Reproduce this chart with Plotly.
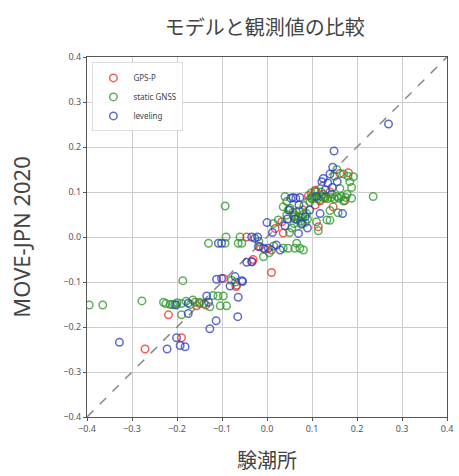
import plotly.graph_objects as go

AXIS_RANGE = [-0.4, 0.4]
TICKS = [-0.4, -0.3, -0.2, -0.1, 0.0, 0.1, 0.2, 0.3, 0.4]

SERIES_NAMES = ["GPS-P", "static GNSS", "leveling"]

gps_x = [-0.271, -0.219, -0.190, -0.156, -0.136, -0.097, -0.069, -0.067, -0.045, -0.031,
         -0.033, -0.016, -0.004, 0.010, 0.010, 0.018, 0.036, 0.033, 0.099, 0.107,
         0.107, 0.114, 0.129, 0.147, 0.173, 0.162, 0.181, 0.107, 0.080, 0.125, 0.140,
         0.092, 0.118, 0.060, -0.150]
gps_y = [-0.249, -0.173, -0.224, -0.153, -0.151, -0.092, -0.110, -0.107, 0.000, -0.050,
         -0.055, -0.021, -0.027, -0.079, -0.029, 0.019, 0.009, 0.034, 0.086, 0.101,
         0.071, 0.023, 0.086, 0.067, 0.081, 0.141, 0.143, 0.104, 0.060, 0.095, 0.100,
         0.092, 0.080, 0.045, -0.148]

gnss_x = [-0.395, -0.365, -0.278, -0.230, -0.225, -0.215, -0.210, -0.190, -0.180, -0.170,
          -0.165, -0.160, -0.150, -0.190, -0.187, -0.127, -0.104, -0.090, -0.120, -0.109,
          -0.097, -0.130, -0.093, -0.091, -0.064, -0.056, -0.060, -0.093, -0.079, -0.070,
          -0.008, 0.005, 0.015, 0.036, 0.047, 0.062, 0.073, 0.081, 0.066, 0.014,
          0.025, 0.040, 0.044, 0.051, 0.110, 0.114, 0.133, 0.140, 0.140, 0.158,
          0.188, 0.236, 0.192, 0.184, 0.188, 0.162, 0.060, 0.065, 0.070, 0.075,
          0.080, 0.090, 0.100, 0.120, 0.130, 0.150, 0.165, 0.170, 0.145, 0.120,
          0.155, 0.150, 0.170, 0.180, 0.050, 0.055,
          0.036, 0.047, 0.044, 0.058, 0.063, 0.068, 0.072, 0.078, 0.085, 0.088,
          0.095, 0.100, 0.105, 0.112, 0.118, 0.125, 0.135, 0.142, 0.155, 0.160,
          0.175, 0.178, 0.110, 0.098, 0.082, 0.076, -0.205, -0.200, -0.140, -0.018]
gnss_y = [-0.151, -0.151, -0.142, -0.145, -0.148, -0.150, -0.150, -0.148, -0.143, -0.150,
          -0.140, -0.145, -0.145, -0.173, -0.097, -0.155, -0.153, -0.153, -0.130, -0.131,
          -0.131, -0.014, -0.014, 0.000, -0.014, -0.014, 0.000, 0.069, -0.096, -0.100,
          -0.044, -0.035, -0.020, -0.025, -0.025, -0.025, -0.025, -0.029, -0.014, 0.030,
          0.038, 0.090, 0.079, 0.064, 0.034, 0.014, 0.038, 0.037, 0.059, 0.054,
          0.086, 0.090, 0.134, 0.123, 0.110, 0.108, 0.030, 0.040, 0.045, 0.035,
          0.050, 0.040, 0.085, 0.090, 0.090, 0.085, 0.090, 0.080, 0.095, 0.100,
          0.150, 0.135, 0.140, 0.135, 0.010, 0.020,
          0.067, 0.060, 0.049, 0.055, 0.048, 0.038, 0.058, 0.044, 0.032, 0.052,
          0.078, 0.090, 0.088, 0.085, 0.083, 0.088, 0.085, 0.088, 0.090, 0.086,
          0.088, 0.095, 0.100, 0.098, 0.070, 0.028, -0.150, -0.146, -0.148, -0.010]

lev_x = [0.270, 0.149, 0.146, 0.156, 0.125, 0.122, 0.140, 0.168, 0.118, 0.073,
         0.058, 0.070, 0.000, -0.027, -0.008, 0.003, 0.021, 0.029, -0.034, -0.021,
         -0.019, -0.034, -0.045, -0.108, -0.101, -0.112, -0.101, -0.071, -0.056, -0.082,
         -0.054, -0.064, -0.065, -0.113, -0.127, -0.134, -0.175, -0.175, -0.202, -0.201,
         -0.193, -0.182, -0.222, -0.328, 0.085, 0.090, 0.050, 0.040, 0.110, -0.130,
         0.130, 0.053, 0.064, 0.071, 0.062, 0.078, 0.095, 0.135, 0.145, 0.012, 0.045]
lev_y = [0.251, 0.191, 0.155, 0.123, 0.130, 0.123, 0.140, 0.052, 0.052, 0.088,
         0.088, 0.008, 0.032, -0.003, -0.025, -0.025, -0.018, -0.029, 0.000, 0.000,
         -0.021, -0.055, -0.056, -0.014, -0.014, -0.094, -0.092, -0.088, -0.097, -0.109,
         -0.099, -0.134, -0.177, -0.186, -0.204, -0.131, -0.147, -0.170, -0.151, -0.224,
         -0.241, -0.244, -0.249, -0.234, 0.045, 0.020, 0.060, 0.025, 0.090, -0.145,
         0.105, 0.086, 0.086, 0.071, 0.040, 0.030, 0.060, 0.120, 0.110, 0.010, 0.040]

COLORS = ["rgba(232,40,40,0.75)", "rgba(40,150,40,0.75)", "rgba(40,60,190,0.75)"]

fig = go.Figure()

fig.add_trace(go.Scatter(
    x=AXIS_RANGE, y=AXIS_RANGE, mode="lines",
    line=dict(color="#888888", width=1.5, dash="dash"),
    showlegend=False, hoverinfo="skip"))

for name, xs, ys, col in zip(SERIES_NAMES, [gps_x, gnss_x, lev_x], [gps_y, gnss_y, lev_y], COLORS):
    fig.add_trace(go.Scatter(
        x=xs, y=ys, mode="markers", name=name,
        marker=dict(symbol="circle-open", size=7.5, color=col, line=dict(width=1.5, color=col))))

axis_common = dict(
    range=AXIS_RANGE, tickvals=TICKS, tickformat=".1f", automargin=False,
    showgrid=True, gridcolor="#cccccc", gridwidth=1,
    zeroline=False, showline=True, linecolor="#555555", linewidth=1.2, mirror=True,
    ticks="outside", ticklen=3, tickcolor="#555555",
    tickfont=dict(family="Noto Sans", size=9, color="#555555"),
)

fig.update_layout(
    width=459, height=476,
    margin=dict(l=87, r=12, t=57, b=59),
    paper_bgcolor="white", plot_bgcolor="white",
    title=dict(text="モデルと観測値の比較", x=0.577, xanchor="center", y=0.941, yanchor="middle",
               font=dict(family="Noto Sans CJK JP", size=20, color="#444444")),
    xaxis=dict(axis_common, title=dict(text="験潮所", standoff=20,
               font=dict(family="Noto Sans CJK JP", size=20, color="#444444"))),
    yaxis=dict(axis_common, title=dict(text="MOVE-JPN 2020", standoff=26,
               font=dict(family="Noto Sans", size=22, color="#444444"))),
    legend=dict(x=0.015, y=0.985, xanchor="left", yanchor="top",
                bgcolor="rgba(255,255,255,0.9)", bordercolor="#dddddd", borderwidth=1,
                font=dict(family="Noto Sans", size=8, color="#444444"),
                tracegroupgap=0, itemwidth=30),
    showlegend=True,
)

fig.write_html("out.html", config={"displayModeBar": False},
               post_script="document.body.style.margin='0';")
